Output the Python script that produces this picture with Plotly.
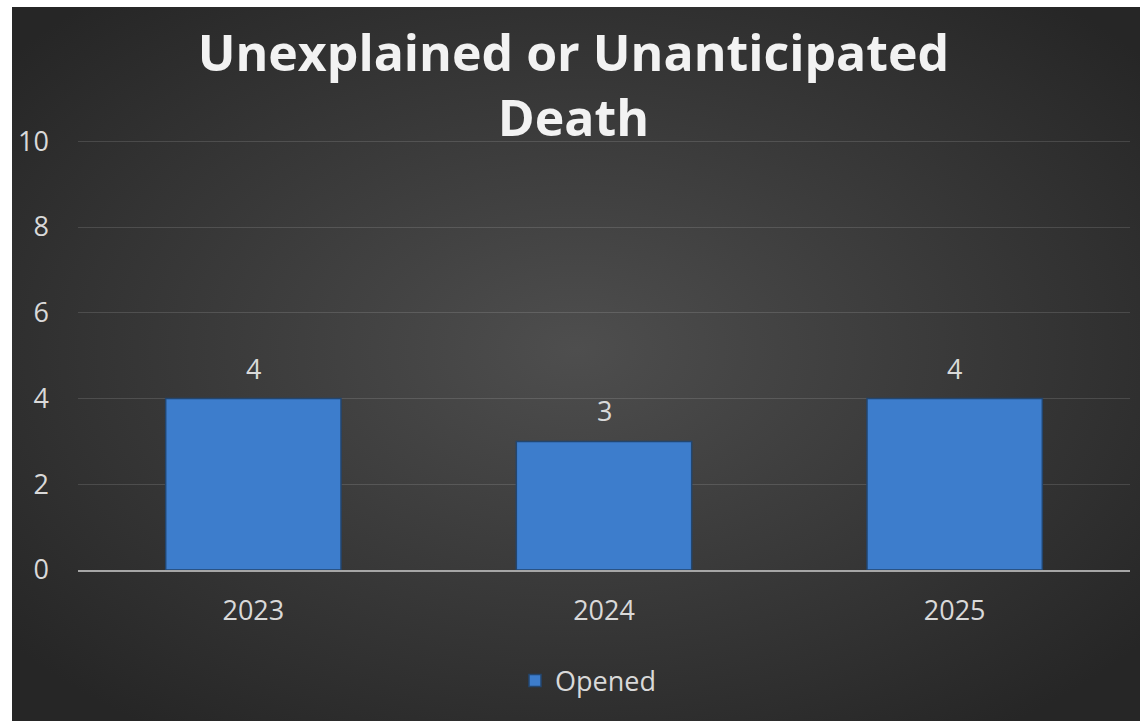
import base64
import plotly.graph_objects as go

categories = ["2023", "2024", "2025"]
opened = [4, 3, 4]
y_ticks = [0, 2, 4, 6, 8, 10]
title_text = "Unexplained or Unanticipated<br>Death"

W, H = 1140, 721
L, R, T, B = 78, 10, 137, 151
pw, ph = W - L - R, H - T - B
YMAX = 10.1

svg = """<svg xmlns='http://www.w3.org/2000/svg' width='1128' height='714' viewBox='0 0 1128 714' preserveAspectRatio='none'>
<defs><radialGradient id='g' cx='50%' cy='48%' r='65%'>
<stop offset='0%' stop-color='#4e4e4e'/><stop offset='100%' stop-color='#262626'/>
</radialGradient></defs><rect width='1128' height='714' fill='url(#g)'/></svg>"""
bg_uri = "data:image/svg+xml;base64," + base64.b64encode(svg.encode()).decode()

def px2x(px):
    return (px - L) / pw

def py2y(py):
    return (H - B - py) / ph

FONT = "Open Sans"
TXT = "#d9d9d9"

fig = go.Figure()
fig.add_trace(go.Bar(
    x=categories, y=opened, name="Opened",
    marker=dict(color="#3d7dcc", line=dict(color="#23466f", width=1.5)),
    width=0.5,
))

# category axes take annotation x as the category index
for i, v in enumerate(opened):
    fig.add_annotation(x=i, y=v, xref="x", yref="y", text=str(v), showarrow=False,
                       yanchor="bottom", yshift=10,
                       font=dict(family=FONT, size=27, color=TXT))

fig.update_layout(
    width=W, height=H,
    margin=dict(l=L, r=R, t=T, b=B),
    paper_bgcolor="white",
    plot_bgcolor="rgba(0,0,0,0)",
    title=dict(text=title_text, x=0.503, xanchor="center", xref="container",
               y=1 - 71 / H, yanchor="top", yref="container",
               font=dict(family=FONT, size=50, color="#f2f2f2", weight="bold")),
    showlegend=True,
    legend=dict(orientation="h", x=px2x(588), xanchor="center", y=py2y(681), yanchor="middle",
                font=dict(family=FONT, size=27, color=TXT),
                bgcolor="rgba(0,0,0,0)", itemwidth=30),
    xaxis=dict(type="category", categoryarray=categories, showgrid=False, showline=True,
               linecolor="#a6a6a6", linewidth=2,
               tickfont=dict(family=FONT, size=27, color=TXT),
               ticks="", ticklabelstandoff=16),
    yaxis=dict(range=[0, YMAX], tickvals=y_ticks, showgrid=True,
               gridcolor="rgba(255,255,255,0.13)", gridwidth=1,
               zeroline=False, showline=False, ticks="",
               tickfont=dict(family=FONT, size=27, color=TXT),
               ticklabelstandoff=28),
    bargap=0.5,
    images=[dict(source=bg_uri, xref="paper", yref="paper",
                 x=px2x(12), y=py2y(7), sizex=px2x(W) - px2x(12), sizey=py2y(7) - py2y(H),
                 xanchor="left", yanchor="top", sizing="stretch", layer="below")],
)

fig.write_html("out.html", config={"displayModeBar": False},
               post_script="document.body.style.margin='0';document.body.style.padding='0';")
